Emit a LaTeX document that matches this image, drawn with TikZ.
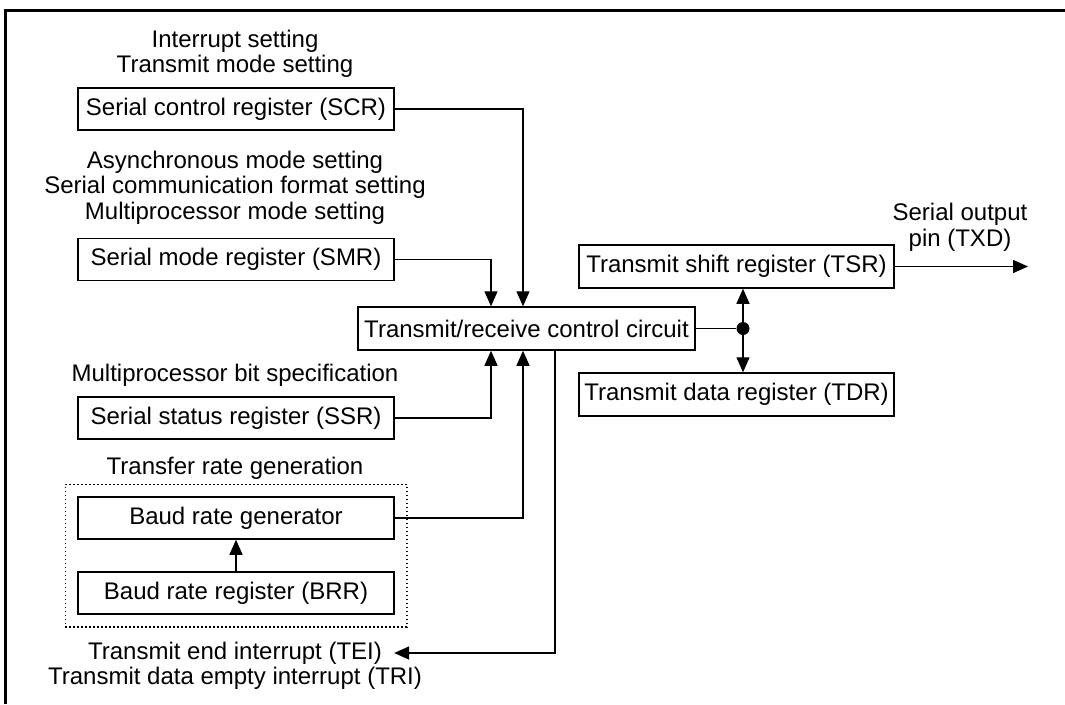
\documentclass[tikz,border=0pt]{standalone}
\usepackage{fontspec}
\setmainfont{Liberation Sans}
\usetikzlibrary{arrows.meta,fit}
\tikzset{
  txt/.style={font=\fontsize{24}{25.5}\selectfont, inner sep=0pt, align=center},
  regbox/.style={txt, draw, line width=1.5pt, minimum width=316pt, minimum height=42pt},
  conn/.style={line width=1.4pt},
  arr/.style={conn, -{Triangle[length=15pt,width=13pt]}},
  dotbox/.style={draw, line width=1.5pt, dash pattern=on 1.5pt off 2.5pt, inner sep=12pt},
  frameline/.style={line width=3pt},
  jdot/.style={circle, fill, inner sep=0pt, minimum size=13pt}
}
\begin{document}
\begin{tikzpicture}[x=1pt,y=-1pt]
\useasboundingbox (0,0) rectangle (1065,704);
% frame (left and top edges only)
\coordinate (fl) at (5.5,704);
\coordinate (fc) at (5.5,10);
\coordinate (fr) at (1065,10);
\draw[frameline] (fl) -- (fc) -- (fr);

% labels
\node[txt] (l1) at (235,54) {Interrupt setting\\Transmit mode setting};
\node[txt] (l2) at (235,187.5) {Asynchronous mode setting\\Serial communication format setting\\Multiprocessor mode setting};
\node[txt] (l3) at (235,375) {Multiprocessor bit specification};
\node[txt] (l4) at (235,468) {Transfer rate generation};
\node[txt] (tei) at (235,653) {Transmit end interrupt (TEI)};
\node[txt] (tri) at (235,678) {Transmit data empty interrupt (TRI)};
\node[txt] (txd) at (960,227.5) {Serial output\\pin (TXD)};

% registers
\node[regbox] (scr) at (236,109) {Serial control register (SCR)};
\node[regbox] (smr) at (236,259.5) {Serial mode register (SMR)};
\node[regbox] (ssr) at (236,418) {Serial status register (SSR)};
\node[regbox] (brg) at (236,518) {Baud rate generator};
\node[regbox] (brr) at (236,593) {Baud rate register (BRR)};
\node[regbox, minimum width=337pt, minimum height=43pt] (ctrl) at (526.5,328.5) {Transmit/receive control circuit};
\node[regbox, minimum width=315pt, minimum height=43pt] (tsr) at (736.5,266.5) {Transmit shift register (TSR)};
\node[regbox, minimum width=315pt, minimum height=43pt] (tdr) at (736.5,394.5) {Transmit data register (TDR)};
\node[dotbox, fit=(brg)(brr)] (grp) {};

% junction and free ends
\node[jdot] (dot) at (743,328.5) {};
\coordinate (xa) at (491,0);
\coordinate (xb) at (523,0);
\coordinate (xc) at (555,0);
\coordinate (out) at (1028,266.5);

% connectors
\draw[arr] (scr.east) -| (xb |- ctrl.north);
\draw[arr] (smr.east) -| (xa |- ctrl.north);
\draw[arr] (ssr.east) -| (xa |- ctrl.south);
\draw[arr] (brg.east) -| (xb |- ctrl.south);
\draw[arr, shorten >=12pt] (xc |- ctrl.south) |- (tei.east);
\draw[arr] (brr.north) -- (brg.south);
\draw[conn] (ctrl.east) -- (dot);
\draw[arr] (dot) -- (dot |- tsr.south);
\draw[arr] (dot) -- (dot |- tdr.north);
\draw[arr] (tsr.east) -- (out);
\end{tikzpicture}
\end{document}
